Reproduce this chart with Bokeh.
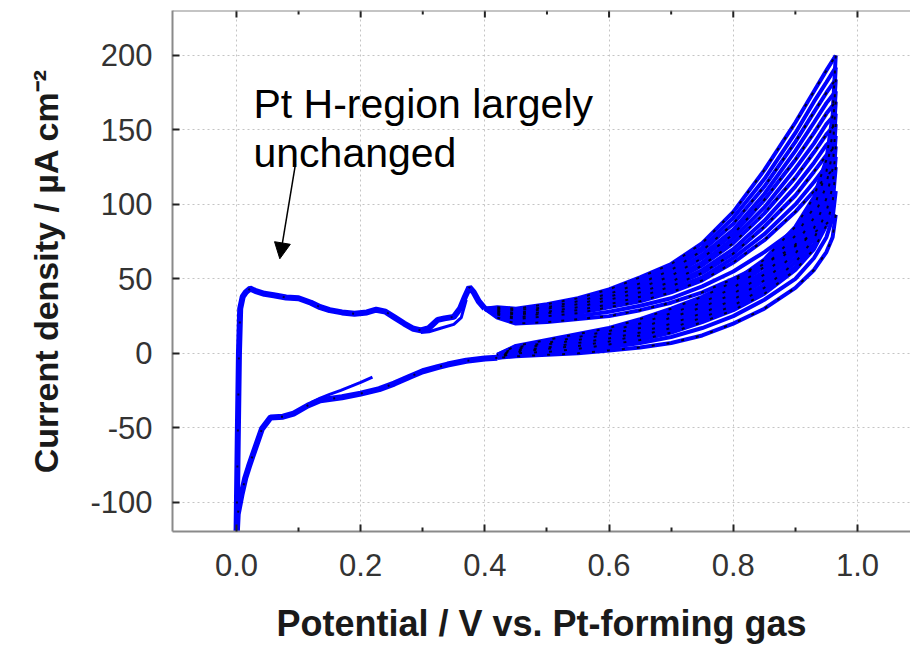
from bokeh.plotting import figure
from bokeh.models import (Range1d, FixedTicker, Arrow, NormalHead, Span,
                          Label, PrintfTickFormatter)
from bokeh.embed import file_html
from bokeh.resources import INLINE

# ---------------- data ----------------
x_ticks = [0.0, 0.2, 0.4, 0.6, 0.8, 1.0]
x_minor = [0.1, 0.3, 0.5, 0.7, 0.9]
y_ticks = [-100, -50, 0, 50, 100, 150, 200]

# anodic sweep, part shared by all cycles (V, uA cm-2)
x_anodic_common = [0.000, 0.002, 0.004, 0.006, 0.010, 0.015, 0.022, 0.030, 0.045,
                   0.060, 0.080, 0.100, 0.120, 0.135, 0.150, 0.170, 0.190, 0.210,
                   0.225, 0.240, 0.255, 0.270, 0.285, 0.297, 0.310, 0.324, 0.335,
                   0.350, 0.360, 0.368, 0.375, 0.382, 0.390, 0.400]
j_anodic_common = [-125, -60, 0, 30, 38, 41, 43.5, 42, 40,
                   39, 37.5, 37, 34, 31, 29, 27.5, 26.6, 27.5,
                   29.3, 28, 24, 20, 16.5, 15.4, 17, 22.5, 23.5,
                   24.5, 30, 38, 44.4, 41, 35, 30]

# one trace that runs lower before the 0.375 V peak
x_anodic_dip = [0.297, 0.310, 0.330, 0.350, 0.362, 0.370]
j_anodic_dip = [14, 14.5, 17, 19.5, 24, 36]

# cathodic sweep, part shared by all cycles
x_cathodic_common = [0.420, 0.400, 0.370, 0.340, 0.324, 0.300, 0.280, 0.254, 0.230,
                     0.200, 0.170, 0.135, 0.115, 0.092, 0.075, 0.055, 0.041, 0.029,
                     0.020, 0.014, 0.008, 0.002, 0.000]
j_cathodic_common = [-3, -3.5, -5, -7.5, -9.2, -12, -15.5, -20.3, -24,
                     -27, -29.5, -31.5, -35, -40.4, -42.5, -43, -50.7, -65,
                     -76, -84, -95, -108, -125]

# first partial sweep starting at 0.22 V
x_start = [0.219, 0.200, 0.185, 0.168, 0.150, 0.135, 0.120]
j_start = [-15.9, -19.5, -22, -24.8, -27.5, -30, -33]

# per-cycle anodic branch at high potential
x_fan_anodic = [0.42, 0.45, 0.50, 0.55, 0.60, 0.65, 0.70, 0.75, 0.80, 0.85, 0.90, 0.93, 0.95, 0.965]
anodic_c1 = [31, 30, 33, 37, 43, 51, 60, 74, 95, 123, 155, 176, 190, 200]
anodic_c2 = [30.5, 29.5, 32, 36, 41.5, 49, 58, 71, 91, 117, 148, 169, 182, 192]
anodic_c3 = [30, 29, 31, 35, 40, 47, 56, 69, 87, 112, 142, 162, 175, 184]
anodic_c4 = [29.5, 28, 30.5, 34, 39, 45.5, 54, 66, 83, 107, 136, 155, 168, 176]
anodic_c5 = [29, 27, 30, 33, 38, 44, 52, 64, 80, 103, 130, 148, 161, 169]
anodic_c6 = [28.5, 26.5, 29, 32, 37, 42.5, 50, 61, 77, 98, 124, 141, 154, 161]
anodic_c7 = [28, 26, 28, 31, 36, 41, 48, 59, 74, 94, 118, 135, 147, 154]
anodic_c8 = [27.5, 25, 27.5, 30, 34.5, 39.5, 46, 56, 70, 89, 112, 128, 140, 146]
anodic_c9 = [27, 24, 27, 29, 33, 38, 45, 54, 67, 85, 106, 122, 133, 139]
anodic_c10 = [26.5, 23.5, 26, 28, 32, 36.5, 43, 51, 64, 80, 100, 115, 126, 132]
anodic_c11 = [26, 23, 25, 27, 31, 35, 41, 49, 61, 76, 95, 109, 119, 125]
anodic_c12 = [25, 22, 23, 25, 28, 32, 37, 45, 55, 68, 83, 95, 104, 109]
anodic_c13 = [24, 20, 21, 23, 25, 29, 34, 41, 50, 60, 72, 81, 87, 93]

# per-cycle cathodic branch at high potential
x_fan_cathodic = [0.965, 0.96, 0.95, 0.93, 0.90, 0.85, 0.80, 0.75, 0.70, 0.65, 0.60, 0.55, 0.50, 0.45, 0.42]
cathodic_c1 = [200, 160, 130, 105, 85, 63, 48, 38, 30, 23, 17, 13, 9, 5, -1]
cathodic_c2 = [192, 154, 126, 101, 82, 60, 46, 36, 28, 21, 16, 12, 8, 4.5, -1]
cathodic_c3 = [184, 148, 122, 98, 79, 58, 44, 34, 27, 20, 15, 11, 7, 4, -1.5]
cathodic_c4 = [176, 142, 117, 94, 76, 55, 42, 32, 25, 18, 14, 10, 6.5, 3.5, -2]
cathodic_c5 = [169, 136, 113, 91, 73, 53, 40, 31, 24, 17, 13, 9, 6, 3, -2]
cathodic_c6 = [161, 130, 108, 87, 70, 51, 38, 29, 22, 15, 11, 8, 5, 2.5, -2]
cathodic_c7 = [154, 124, 104, 84, 67, 49, 36, 27, 20, 14, 10, 7, 4, 2, -2]
cathodic_c8 = [146, 118, 99, 80, 64, 46, 34, 25, 18, 13, 9, 6, 3.5, 1.5, -2.5]
cathodic_c9 = [139, 112, 95, 77, 61, 44, 32, 24, 17, 12, 8, 5, 3, 1, -2.5]
cathodic_c10 = [132, 106, 90, 73, 58, 42, 30, 22, 15, 10, 7, 4, 2, 0.5, -2.5]
cathodic_c11 = [125, 101, 86, 70, 56, 40, 29, 21, 14, 9, 6, 3, 1, 0, -2.5]
cathodic_c12 = [109, 91, 78, 64, 50, 36, 25, 17, 11, 7, 4, 2, 0, -1, -3]
cathodic_c13 = [93, 78, 68, 56, 44, 30, 20, 12, 7, 4, 2, 0, -1, -2, -3]

anodic_cycles = [anodic_c1, anodic_c2, anodic_c3, anodic_c4, anodic_c5, anodic_c6, anodic_c7,
                 anodic_c8, anodic_c9, anodic_c10, anodic_c11, anodic_c12, anodic_c13]
cathodic_cycles = [cathodic_c1, cathodic_c2, cathodic_c3, cathodic_c4, cathodic_c5,
                   cathodic_c6, cathodic_c7, cathodic_c8, cathodic_c9, cathodic_c10,
                   cathodic_c11, cathodic_c12, cathodic_c13]

# ---------------- figure ----------------
FONT = "Liberation Sans"
BLUE = "#0000ff"
FRAME = "#8a8a8a"
TICK = "#222222"
Y0, Y1 = -119.6, 230.2
FRAME_H = 522  # px

p = figure(width=910, height=646, output_backend="svg", toolbar_location=None,
           x_range=Range1d(-0.103, 1.0854), y_range=Range1d(Y0, Y1),
           min_border_left=172, min_border_right=0, min_border_top=10,
           min_border_bottom=114, background_fill_color="white",
           border_fill_color="white", outline_line_color=None)

xt = FixedTicker(ticks=x_ticks, minor_ticks=x_minor)
yt = FixedTicker(ticks=y_ticks, minor_ticks=[])

for ax in (p.xaxis[0], p.yaxis[0]):
    ax.axis_line_color = FRAME
    ax.axis_line_width = 2
    ax.major_tick_in = 7
    ax.major_tick_out = 0
    ax.major_tick_line_width = 2
    ax.major_tick_line_color = TICK
    ax.minor_tick_in = 4
    ax.minor_tick_out = 0
    ax.minor_tick_line_width = 2
    ax.minor_tick_line_color = TICK
    ax.major_label_text_font = FONT
    ax.major_label_text_font_size = "31px"
    ax.major_label_text_color = "#333333"
    ax.axis_label_text_font = FONT
    ax.axis_label_text_font_style = "bold"
    ax.axis_label_text_color = "#1a1a1a"

p.xaxis.ticker = xt
p.xaxis.formatter = PrintfTickFormatter(format="%.1f")
p.xaxis.major_label_standoff = 22
p.xaxis.axis_label = "Potential / V vs. Pt-forming gas"
p.xaxis.axis_label_text_font_size = "36px"
p.xaxis.axis_label_standoff = 24

p.yaxis.ticker = yt
p.yaxis.formatter = PrintfTickFormatter(format="%d")
p.yaxis.minor_tick_line_color = None
p.yaxis.major_label_standoff = 20
p.yaxis.axis_label = "Current density / µA cm⁻²"
p.yaxis.axis_label_text_font_size = "34px"
p.yaxis.axis_label_standoff = 22

for g in (p.xgrid[0], p.ygrid[0]):
    g.grid_line_color = "#c4c4c4"
    g.grid_line_dash = "2 3"
    g.grid_line_width = 1
p.xgrid.ticker = xt
p.ygrid.ticker = yt

# top frame line and inward ticks (mirror of the bottom axis)
p.add_layout(Span(location=Y1, dimension="width", line_color=FRAME, line_width=2))
units_per_px = (Y1 - Y0) / FRAME_H
p.segment(x0=x_ticks, x1=x_ticks, y0=[Y1] * len(x_ticks),
          y1=[Y1 - 7 * units_per_px] * len(x_ticks), line_color=TICK, line_width=2)
p.segment(x0=x_minor, x1=x_minor, y0=[Y1] * len(x_minor),
          y1=[Y1 - 4 * units_per_px] * len(x_minor), line_color=TICK, line_width=2)

# ---------------- curves ----------------
for a_vals, c_vals in zip(anodic_cycles, cathodic_cycles):
    xa = [x_anodic_common[-1]] + x_fan_anodic
    ya = [j_anodic_common[-1]] + a_vals
    p.line(xa, ya, line_color=BLUE, line_width=4)
    p.line(x_fan_cathodic, c_vals, line_color=BLUE, line_width=4)

p.line(x_anodic_common, j_anodic_common, line_color=BLUE, line_width=6)
p.line(x_anodic_dip, j_anodic_dip, line_color=BLUE, line_width=3)
p.line(x_cathodic_common, j_cathodic_common, line_color=BLUE, line_width=6)
p.line(x_start, j_start, line_color=BLUE, line_width=3)

# black dotted overlay of the recorded points
for a_vals, c_vals in zip(anodic_cycles[::2], cathodic_cycles[::2]):
    p.line(x_fan_anodic, a_vals, line_color="black", line_width=2, line_dash="3 10", line_alpha=0.85)
    p.line(x_fan_cathodic, c_vals, line_color="black", line_width=2, line_dash="3 12", line_alpha=0.85)
p.line(x_cathodic_common, j_cathodic_common, line_color="black", line_width=2, line_dash="2 26", line_alpha=0.8)
p.line(x_anodic_common, j_anodic_common, line_color="black", line_width=2, line_dash="2 34", line_alpha=0.7)

# ---------------- annotation ----------------
p.add_layout(Label(x=0.0274, y=167.7, text="Pt H-region largely", text_font=FONT,
                   text_font_size="41px", text_color="black", text_baseline="alphabetic"))
p.add_layout(Label(x=0.0274, y=134.2, text="unchanged", text_font=FONT,
                   text_font_size="41px", text_color="black", text_baseline="alphabetic"))
p.add_layout(Arrow(end=NormalHead(size=16, fill_color="black", line_color="black"),
                   x_start=0.095, y_start=127.1, x_end=0.0698, y_end=63.5,
                   line_color="black", line_width=1.5))

open("out.html", "w").write(file_html(p, INLINE))
